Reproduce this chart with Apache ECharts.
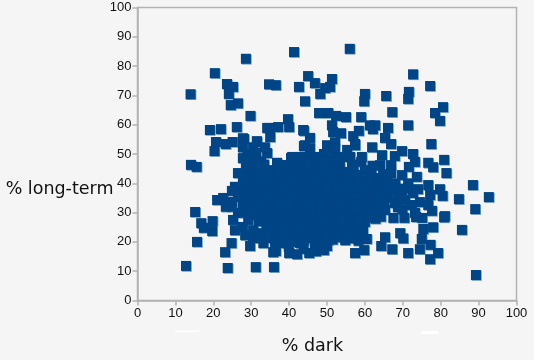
<!DOCTYPE html>
<html>
<head>
<meta charset="utf-8">
<style>
  html, body { margin: 0; padding: 0; background: #f5f5f5; }
  #chart { width: 534px; height: 360px; }
</style>
<script src="https://cdn.jsdelivr.net/npm/echarts@6/dist/echarts.min.js"></script>
</head>
<body>
<div id="chart"></div>
<script>
// % dark, % long-term pairs
const upperPoints = [
  [14,70.4],[28.6,82.5],[20.4,77.6],[23.6,73.9],[25.2,72.9],[24.1,70.5],[24.6,66.7],[26.5,67.3],[29.8,63],
  [26.2,59.2],[19.1,58.2],[22,58.5],[20.7,54.1],[20.3,51],[23.3,53.4],[25.1,54.1],[28.1,55.1],[31.5,54.1],
  [14.1,46.3],[15.6,45.6],[41.3,84.8],[56,85.9],[72.7,77.2],[77.2,73.2],[80.6,66],[78.5,64],[79.8,61.3],
  [71.4,59.8],[77.5,53.4],[80.9,48],[76.7,47],[78,45.5],[81.5,43.5],[71.6,71.2],[71.4,68.8],[65.6,69.8],
  [67.2,64.3],[66.1,58.9],[65.3,55.5],[66.9,53.4],[60,70.5],[59.8,68],[59,62.6],[55,62.6],[52.4,63],[50.3,64],
  [47.9,64],[44.2,68],[48.2,70.5],[50.8,72.9],[51.3,75.6],[49.5,72.5],[46.8,74.2],[45,76.6],[42.6,72.9],
  [36.5,73.5],[34.7,73.8],[62.1,58.5],[62.7,59.8],[61.3,59.8],[58.4,57.9],[56.9,56.1],[57.4,53.4],[61.9,52.3],
  [53.7,57.1],[51.3,59.8],[51.6,57.5],[43.9,57.9],[39.7,61.9],[40,59.2],[37.1,59.2],[34.7,58.9],[35,55.8],
  [45.5,55.5],[43.9,52.7],[45.5,52],[50,53],[52.1,54],[51.8,51.4],[55.3,51.4],[54.8,49],[59.2,49],[59,47.3],
  [64.5,49.6],[64,46.2],[69.8,51],[67.9,49.3],[66.9,46.2],[72.7,50],[73.2,47.3],[71.6,45.6],[73.7,42.2],
  [66.9,43.5],[69.8,42.8],[60,44.5],[63.2,41.8],[56.9,42.2],[46.8,44.5],[49.2,50],[45.5,49],[42.9,49],[40.5,48.6],
  [38.9,46.2],[42.6,44.5],[35.5,44.2],[38.9,42.8],[44.2,42.2],[50.8,47],[53.4,47],[50.5,43.9],[54,43.9],
  [27.8,55.4],[31.5,54.4],[27.8,48.6],[32.6,47.5],[34.2,50.3],[27.8,52.3],[30.5,52.3],[33.6,52.3],[44.2,53],
  [43.7,58.2],[34.2,58.9],[40.8,49],[46.8,49],[39.4,46.2],[50,52.4],[50.3,48],[56.1,49],[57.4,53],[52.1,52]
];
const middlePoints = [
  [26.5,43.5],[28.9,43.9],[34.2,44.5],[36.3,43.5],[42.3,44.5],[46.8,44.9],[25.7,38.8],[24.9,37.4],[27.8,41.8],
  [30.5,42.2],[33.1,37.7],[35,37.7],[21,34.3],[22.6,35],[24.9,33.6],[27.8,33.6],[31.8,34.3],[26.5,35.3],[31,40.4],
  [35,43.5],[41,40.1],[37.6,39.4],[44.7,40.4],[49,40.4],[44.7,36.7],[49,36],[38.4,35],[42.1,33.6],[35.5,33.3],
  [40.2,36.7],[47.4,33.3],[51.6,34.3],[51.6,38.8],[51.6,44.5],[71.4,40],[76.7,39.4],[79.8,38],[80.5,35.7],[77.2,36],
  [74.5,33.6],[72.7,36.7],[69.8,36],[66.6,37.7],[63.2,41.1],[56.9,35.3],[60.5,37.7],[64,35.3],[67.9,33.3],[72.4,32.6],
  [76.7,32.6],[59.5,33.3],[52.6,41.1],[57.9,40.4],[53.4,36.7],[61.3,39.4],[88.5,39.4],[84.8,34.6],[92.7,35.3],[89.1,31.2],
  [29,38],[29,36],[33,41],[38,41],[41,43],[46,38],[47,42],[54,39],[56,38],[58,37],[62,36],[55,33],[46,35],[34,35],[30,33],
  [36,41],[43,38],[48,38],[50,41],[57,44],[60,41],[65,40],[68,40],[74,38],[52,36]
];
const lowerPoints = [
  [15.2,30.2],[16.8,26.4],[17.5,24.8],[19.8,27.1],[19.7,23.7],[15.7,20],[24.8,19.6],[23.1,16.5],[12.8,11.8],[23.8,11.1],
  [31.2,11.4],[36,11.4],[89.3,8.7],[85.6,24.1],[81.1,28.8],[80.9,28.4],[79.3,16.2],[77.2,14.1],[77.3,19],[74.5,17.5],
  [75,21],[71.4,16.2],[67.2,17.5],[64.3,18.6],[65.3,21.6],[69.3,23],[70.1,21.2],[78,25],[75.4,24.4],[67.5,28.2],[70.4,28.2],
  [73.2,29.9],[75.1,28.2],[77.7,30.6],[59.8,17.2],[57.4,16.2],[54.8,20.6],[60.5,21],[45.3,16.2],[42.1,15.8],[40,16.2],
  [50,18.6],[36.5,16.9],[23.3,32],[25.7,24],[25.2,27.5],[26.5,29.9],[27.8,25.1],[30.5,21.3],[34.4,21.3],[36.3,18.3],[38.4,19.6],
  [42.9,19.6],[46.8,18.9],[50.3,20.6],[40.2,22.4],[36.8,23.4],[33.1,23],[30.5,24],[35.8,27.5],[33.6,30.2],[29.2,27.5],[27.8,30.2],
  [24.9,32],[39.4,27.5],[43.7,25.1],[47.6,23],[51.3,23.4],[43.7,29.9],[48.2,29.9],[40.2,32],[36.8,30.9],[45.5,33.6],[51.3,30.9],
  [52.6,35.3],[48.7,26.4],[51.6,26.8],[40.2,24.7],[44.7,21.7],[49,20.6],[54.5,23],[57.4,23],[59.5,24],[60,26.8],[56.6,26.4],
  [73.5,28.5],[62.1,29.9],[65.3,30.9],[68.7,31.9],[57.4,29.2],[53.4,29.9],[53.4,34.3],[60.8,33.3],[57.4,35],[52.1,26.4],
  [29.7,18.6],[35.8,16.5],[32,27],[38,25],[42,28],[46,26],[50,24],[55,27],[46,30],[31,31],[38,33],[43,32],[34,26],[41,20],[45,23],[48,18]
];
// estimates for the solid core, where single markers cannot be told apart
const corePoints = [
  [30.3,45.2],[32.7,44.1],[37.8,44.6],[40.3,45.3],[44.6,43.9],[48.7,44.2],[53.1,42.6],[55.6,43.2],[58.6,42.9],[61.7,43.4],[64.8,43.1],
  [32.4,38.9],[36.8,37.9],[39.2,38.4],[42.6,41.2],[45.3,41.6],[47.8,39.2],[50.4,37.2],[53.7,40.8],[55.8,40.6],[59.2,39.3],[62.6,38.7],[64.7,37.6],[67.8,38.3],[70.3,38.2],
  [28.3,40.2],[26.8,37.2],[30.6,36.2],[32.9,35.6],[37.1,35.6],[39.6,34.4],[41.4,37.2],[43.2,35.3],[47.6,36.4],[50.2,33.4],[54.7,35.4],[58.8,35.2],[61.7,34.3],[66.2,35.1],[70.6,34.4],
  [28.6,31.8],[32.8,32.1],[34.9,31.7],[38.7,31.2],[41.8,30.6],[44.6,31.8],[47.2,31.6],[49.7,31.7],[52.8,32.3],[55.6,31.1],[58.3,31.7],[61.1,31.4],[63.8,32.2],[69.9,31.1],
  [29.6,29.3],[31.4,29.1],[35.3,29.8],[38.4,29.2],[41.5,28.8],[45.2,28.3],[47.3,27.6],[50.2,28.2],[53,28],[55.9,29.3],[59.4,28.9],[62.8,27.9],[64.2,28.6],
  [34.6,24.2],[38.5,24.3],[41.8,25.4],[44.4,26.8],[49.3,27.2],[52.7,24.6],[55.8,24.6],[58.2,25.9],
  [28.4,22.3],[32.1,21.4],[36.4,21.2],[38.2,21.6],[42.7,22.5],[46.2,21.3],[48.2,22],[51.5,20.8],[53.1,21.6],[56.9,21.2],[58.7,22],
  [33.2,19.6],[39.9,18.4],[43.8,17.6],[47.1,16.8],[49.2,17.2],[37.4,44.9]
];
const corePointsFill = [
  [31.6,43.1],[34,42.2],[36.9,42.6],[39.4,41.6],[43.6,43.2],[46,43.4],[48.3,42.6],[50.8,42.7],[54.8,41.8],[58.1,41.7],[61.4,41.2],[65.9,41.6],
  [29.8,39.7],[34.4,39.8],[37.2,39.6],[40.6,38.6],[43.8,39.3],[46.4,39.8],[49.6,38.7],[52.8,38.2],[55.2,37.1],[57.4,38.6],[60.1,36.2],[63.4,37.1],[65.6,38.9],[68.8,36.6],
  [31.2,37.4],[33.8,36.8],[36,34.4],[38.2,36.7],[41,35.4],[44.4,34.2],[47,34.3],[49.1,34.4],[53.9,33.2],[56.2,34.2],[59,31.9],[62.8,33.4],[65.1,33.6],[69.1,35.1],
  [31.7,32.7],[33.7,33.4],[37,32.6],[39.7,32.8],[42.8,31.1],[45.9,32.2],[48.6,32.7],[54.4,30.2],[56.7,32.8],[60.3,30.4],[63.6,30.6],
  [33.9,28.4],[36.9,28.6],[40.3,29.6],[43.4,27.6],[45.8,27.4],[48.9,28.8],[51.7,29.2],[54.6,28.6],[58.4,27.6],[61,28.3],
  [35.4,26],[37.3,26.7],[40.7,26.4],[42.9,24.6],[45.6,24.6],[47.8,24.8],[50.6,25.4],[53.6,25.9],[56.4,23.6],[58.9,23.4],
  [34.8,22.6],[37.4,20.2],[39.6,20.6],[41.2,23.1],[43.9,20.6],[47.4,20.4],[49.6,22.3],[52.4,22.4],[55.6,21.6],[58.3,20.4],
  [30.4,47.4],[29,50],[31.3,50.4],[28.6,46.2],[36.8,47],[41.6,46.6],[43.6,46.7],[46.1,46.8],[48.4,47.3],[52.4,48.9],[56.6,46.4],[62,46],[33.4,46.4]
];
const tickValues = [0, 10, 20, 30, 40, 50, 60, 70, 80, 90, 100];
const xAxisName = '% dark';
const yAxisName = '% long-term';

const points = upperPoints.concat(middlePoints, lowerPoints, corePoints, corePointsFill);
const axisGrey = '#b3b3b3';

function axisOption(name, nameGap, nameStyle) {
    return {
        type: 'value',
        min: tickValues[0],
        max: tickValues[tickValues.length - 1],
        interval: tickValues[1] - tickValues[0],
        name: name,
        nameLocation: 'middle',
        nameGap: nameGap,
        nameRotate: 0,
        nameMoveOverlap: false,
        nameTextStyle: Object.assign({ fontFamily: 'DejaVu Sans', fontSize: 17.5, color: '#111' }, nameStyle),
        axisLine: { show: true, lineStyle: { color: axisGrey, width: 1.5 } },
        axisTick: { show: true, length: 5, lineStyle: { color: axisGrey, width: 1.5 } },
        axisLabel: { fontFamily: 'Liberation Sans', fontSize: 13, color: '#111', margin: 6 },
        splitLine: { show: false }
    };
}

const chart = echarts.init(document.getElementById('chart'), null, { renderer: 'canvas' });
chart.setOption({
    animation: false,
    backgroundColor: '#f5f5f5',
    grid: { left: 137.5, right: 17.5, top: 7.5, bottom: 59.5, outerBoundsMode: 'none', show: true, borderColor: axisGrey, borderWidth: 1.5, backgroundColor: 'transparent' },
    xAxis: axisOption(xAxisName, 37, { padding: [0, 29, 0, 0] }),
    // the name sits below the middle of the axis in the original
    yAxis: axisOption(yAxisName, 24, { verticalAlign: 'top', lineHeight: 70 }),
    series: [
        // lighter edge under every marker, drawn first so the dense part stays solid
        { type: 'scatter', data: points, symbol: 'rect', symbolSize: 10, symbolOffset: [0.8, 0.8], clip: false, itemStyle: { color: '#6e9ac2', opacity: 1 } },
        { type: 'scatter', data: points, symbol: 'rect', symbolSize: 10, clip: false, itemStyle: { color: '#004586', opacity: 1 } }
    ],
    // faint white marks under the tick labels in the original
    graphic: [
        { type: 'rect', shape: { x: 175, y: 330.5, width: 24, height: 1.5 }, style: { fill: '#ffffff' } },
        { type: 'rect', shape: { x: 421, y: 331, width: 17, height: 3 }, style: { fill: '#ffffff' } }
    ]
});
</script>
</body>
</html>
